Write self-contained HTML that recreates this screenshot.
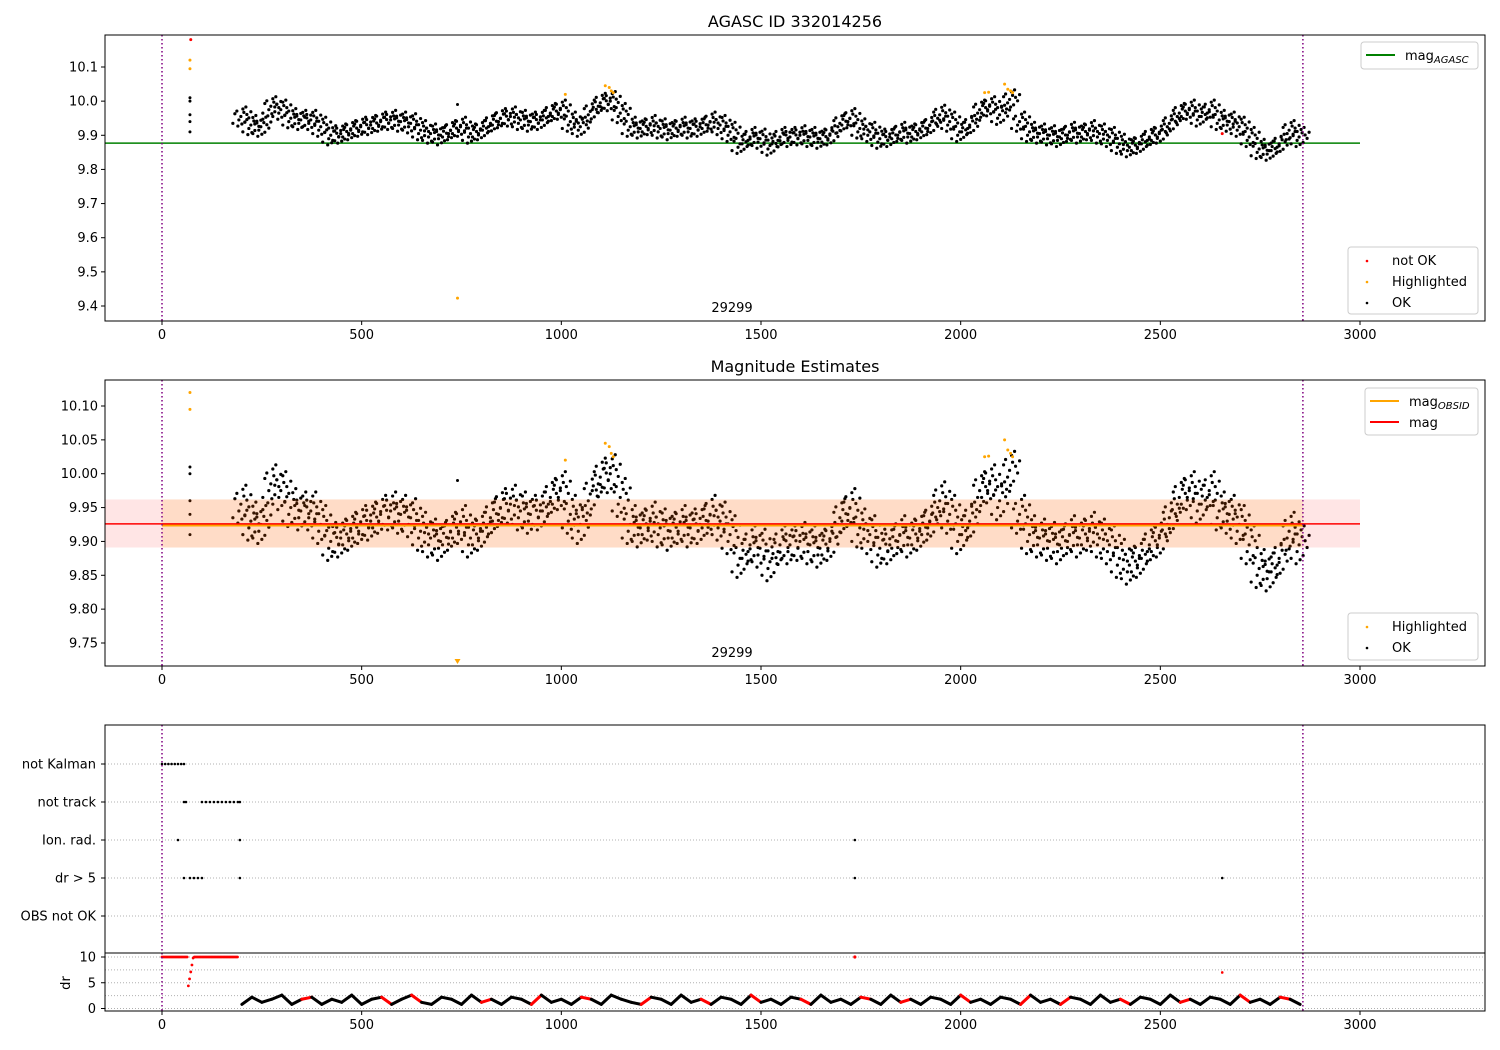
<!DOCTYPE html>
<html><head><meta charset="utf-8"><style>
html,body{margin:0;padding:0;background:#fff;}
svg{display:block;font-family:"DejaVu Sans","Liberation Sans",sans-serif;}
</style></head><body>
<svg id="fig" width="1500" height="1050" viewBox="0 0 1500 1050" xmlns="http://www.w3.org/2000/svg"></svg>
<script>
// ---- data ----
const t0 = 200, tStep = 25;
const magMean = [9.955,9.93,9.925,9.985,9.975,9.95,9.945,9.945,9.925,9.90,9.905,9.915,9.925,9.93,9.94,9.945,9.94,9.935,9.915,9.905,9.90,9.915,9.925,9.905,9.915,9.935,9.95,9.955,9.945,9.94,9.945,9.965,9.975,9.94,9.925,9.97,9.995,10.0,9.965,9.925,9.92,9.93,9.92,9.915,9.925,9.92,9.925,9.94,9.93,9.91,9.875,9.895,9.89,9.87,9.895,9.895,9.90,9.895,9.89,9.90,9.935,9.95,9.92,9.91,9.89,9.895,9.91,9.905,9.915,9.93,9.96,9.94,9.91,9.93,9.975,9.985,9.96,10.005,9.94,9.91,9.905,9.90,9.895,9.91,9.905,9.915,9.905,9.895,9.875,9.865,9.875,9.895,9.905,9.935,9.965,9.975,9.955,9.975,9.945,9.94,9.925,9.895,9.86,9.855,9.875,9.915,9.895];
const times = [];
for (let i = 0; i < magMean.length; i++) times.push(t0 + i * tStep);
const drVals = [0.8,2.2,1.2,1.8,2.6,0.8,1.8,2.2,0.8,1.8,1.2,2.6,0.8,1.8,2.2,0.8,1.8,2.6,1.2,0.8,2.2,1.8,0.8,2.6,1.2,1.8,0.8,2.2,1.8,0.8,2.6,1.2,1.8,0.8,2.2,1.8,0.8,2.6,1.8,1.2,0.8,2.2,1.8,0.8,2.6,1.2,1.8,0.8,2.2,1.8,0.8,2.6,1.2,1.8,0.8,2.2,1.8,0.8,2.6,1.2,1.8,0.8,2.2,1.8,0.8,2.6,1.2,1.8,0.8,2.2,1.8,0.8,2.6,1.2,1.8,0.8,2.2,1.8,0.8,2.6,1.2,1.8,0.8,2.2,1.8,0.8,2.6,1.2,1.8,0.8,2.2,1.8,0.8,2.6,1.2,1.8,0.8,2.2,1.8,0.8,2.6,1.2,1.8,0.8,2.2,1.8,0.8];
const drRed = [6,14,17,24,29,34,40,46,51,56,62,66,72,78,82,88,94,100,104];
const hiT = [70,70,1010,1110,1120,1125,1130,2060,2070,2110,2118,2125,2130];
const hiM = [10.12,10.095,10.02,10.045,10.04,10.03,10.025,10.025,10.026,10.05,10.035,10.03,10.025];
const earlyT = [70,70,70,70,70,740];
const earlyM = [10.01,10.0,9.96,9.94,9.91,9.99];
const catLabels = ["not Kalman","not track","Ion. rad.","dr > 5","OBS not OK"];
const flagCat = [0,0,0,0,0,0,0,0,1,1,1,1,1,1,1,1,1,1,1,1,1,2,2,2,3,3,3,3,3,3,3,3];
const flagT =   [0,8,16,24,32,40,48,55,55,60,100,110,120,130,140,150,160,170,180,190,195,40,195,1735,55,70,80,90,100,195,1735,2655];
const xTicks = [0,500,1000,1500,2000,2500,3000];
const y1Ticks = [9.4,9.5,9.6,9.7,9.8,9.9,10.0,10.1];
const y2Ticks = [9.75,9.80,9.85,9.90,9.95,10.00,10.05,10.10];
const drTicks = [0,5,10];

// ---- helpers ----
const svg = document.getElementById('fig');
const NS = 'http://www.w3.org/2000/svg';
function mk(tag, attrs, parent) {
  const e = document.createElementNS(NS, tag);
  for (const k in attrs) e.setAttribute(k, attrs[k]);
  (parent || svg).appendChild(e);
  return e;
}
const X = t => 162 + t * (1198 / 3000);
const Y1 = m => 67 + (10.1 - m) * (239 / 0.7);
const Y2 = m => 406 + (10.10 - m) * (237 / 0.35);
const YC = i => 764 + i * 38;
const YD = d => 1008.5 - d * 5.15;

function axesBox(name, y0, y1) {
  const r = mk('rect', {x:105, y:y0, width:1380, height:y1 - y0, fill:'none', stroke:'#000', 'stroke-width':1});
  
  
}
function xAxis(name, yb) {
  const g = mk('g', {});
  
  
  xTicks.forEach(v => {
    mk('line', {x1:X(v), x2:X(v), y1:yb, y2:yb + 4, stroke:'#000'}, g);
    const tx = mk('text', {x:X(v), y:yb + 18, 'font-size':13, 'text-anchor':'middle'}, g);
    tx.textContent = v;
  });
}
function yAxis(name, ticks, f, fmt) {
  const g = mk('g', {});
  
  
  ticks.forEach(v => {
    mk('line', {x1:101, x2:105, y1:f(v), y2:f(v), stroke:'#000'}, g);
    const tx = mk('text', {x:98, y:f(v) + 4.5, 'font-size':13, 'text-anchor':'end'}, g);
    tx.textContent = fmt(v);
  });
}
function dot(g, x, y, c, r) { mk('circle', {cx:x, cy:y, r:r || 1.5, fill:c}, g); }
const offs = [[-4.5,-0.02],[-3.5,0.008],[-2.5,0.016],[-1.5,-0.01],[-0.5,0.0],[0.5,0.022],[1.5,-0.016],[2.5,0.006],[3.5,-0.004],[4.5,0.014],[-2,-0.028],[2,0.028],[0,-0.022],[1,0.012]];
function cloud(name, f, k) {
  const g = mk('g', {});
  
  
  times.forEach((t, i) => {
    offs.forEach(o => dot(g, X(t) + o[0] * 2, f(magMean[i] + o[1] * k), '#000', 1.6));
  });
  return g;
}
function vlines(y0, y1) {
  [0, 2857].forEach(t => mk('line', {x1:X(t), x2:X(t), y1:y0, y2:y1, stroke:'#800080', 'stroke-width':1.5, 'stroke-dasharray':'1.5,2.5'}));
}
function title(txt, y, name) {
  const t = mk('text', {x:795, y:y, 'font-size':16, 'text-anchor':'middle'});
  t.textContent = txt;
  
  
}

// ---- panel 1 ----
title('AGASC ID 332014256', 27, 'top-title');
mk('line', {x1:105, x2:1360, y1:Y1(9.877), y2:Y1(9.877), stroke:'#008000', 'stroke-width':1.5});
cloud('ok-points-top', Y1, 1);
(function(){
  const g = mk('g', {});
  
  
  earlyT.forEach((t,i) => dot(g, X(t), Y1(earlyM[i]), '#000'));
  hiT.forEach((t,i) => dot(g, X(t), Y1(hiM[i]), 'orange'));
  dot(g, X(740), Y1(9.423), 'orange');
  dot(g, X(72), Y1(10.18), 'red');
  dot(g, X(2655), Y1(9.905), 'red');
})();
vlines(35, 321);
axesBox('top-axes', 35, 321);
xAxis('top-x-axis', 321);
yAxis('top-y-axis', y1Ticks, Y1, v => v.toFixed(1));
(function(){ const t = mk('text', {x:732, y:312, 'font-size':13, 'text-anchor':'middle'}); t.textContent = '29299';   })();

// ---- panel 2 ----
title('Magnitude Estimates', 372, 'middle-title');
cloud('ok-points-mid', Y2, 1);
(function(){
  const g = mk('g', {});
  
  
  earlyT.forEach((t,i) => dot(g, X(t), Y2(earlyM[i]), '#000'));
  hiT.forEach((t,i) => dot(g, X(t), Y2(hiM[i]), 'orange'));
  mk('path', {d:`M${X(740)-3},${Y2(9.722)-3} L${X(740)+3},${Y2(9.722)-3} L${X(740)},${Y2(9.722)+2} Z`, fill:'orange'}, g);
})();
(function(){
  const g = mk('g', {});
  
  
  mk('rect', {x:105, y:Y2(9.962), width:1255, height:Y2(9.891)-Y2(9.962), fill:'rgba(255,0,0,0.1)'}, g);
  mk('rect', {x:X(0), y:Y2(9.962), width:X(2857)-X(0), height:Y2(9.891)-Y2(9.962), fill:'rgba(255,165,0,0.13)'}, g);
  mk('line', {x1:X(0), x2:X(2857), y1:Y2(9.925)+1, y2:Y2(9.925)+1, stroke:'orange', 'stroke-width':2}, g);
  mk('line', {x1:105, x2:1360, y1:Y2(9.926), y2:Y2(9.926), stroke:'red', 'stroke-width':1.5}, g);
})();
vlines(380, 666);
axesBox('middle-axes', 380, 666);
xAxis('middle-x-axis', 666);
yAxis('middle-y-axis', y2Ticks, Y2, v => v.toFixed(2));
(function(){ const t = mk('text', {x:732, y:657, 'font-size':13, 'text-anchor':'middle'}); t.textContent = '29299';   })();

// ---- panel 3 flags ----
(function(){
  const g = mk('g', {});
  
  
  catLabels.forEach((c,i) => {
    mk('line', {x1:105, x2:1485, y1:YC(i), y2:YC(i), stroke:'#b0b0b0', 'stroke-dasharray':'1,2'}, g);
    mk('line', {x1:101, x2:105, y1:YC(i), y2:YC(i), stroke:'#000'}, g);
    const tx = mk('text', {x:96, y:YC(i) + 4.5, 'font-size':13, 'text-anchor':'end'}, g);
    tx.textContent = c;
  });
  flagT.forEach((t,i) => dot(g, X(t), YC(flagCat[i]), '#000', 1.3));
})();
// dr
(function(){
  const g = mk('g', {});
  
  
  [0,2.5,5,7.5,10].forEach(v => mk('line', {x1:105, x2:1485, y1:YD(v), y2:YD(v), stroke:'#b0b0b0', 'stroke-dasharray':'1,2'}, g));
  for (let t = 0; t <= 190; t += 3) {
    let d = 10;
    if (t >= 64 && t <= 78) d = 3.5 + (t - 64) * 0.45;
    dot(g, X(t), YD(d), 'red', 1.4);
  }
  for (let i = 0; i < times.length - 1; i++) {
    const t = times[i];
    const a = drVals[i], b = drVals[i + 1];
    const col = drRed.indexOf(i) >= 0 ? 'red' : '#000';
    mk('line', {x1:X(t), y1:YD(a), x2:X(t + tStep), y2:YD(b), stroke:col, 'stroke-width':3, 'stroke-linecap':'round'}, g);
  }
  dot(g, X(1735), YD(10), 'red', 1.6);
  dot(g, X(2655), YD(7), 'red', 1.3);
  drTicks.forEach(v => {
    mk('line', {x1:101, x2:105, y1:YD(v), y2:YD(v), stroke:'#000'}, g);
    const tx = mk('text', {x:96, y:YD(v) + 4.5, 'font-size':13, 'text-anchor':'end'}, g);
    tx.textContent = v;
  });
  const yl = mk('text', {x:70, y:983, 'font-size':13, 'text-anchor':'middle', transform:'rotate(-90 70 983)'}, g);
  yl.textContent = 'dr';
})();
vlines(725, 1011);
axesBox('flags-axes', 725, 953);
axesBox('dr-axes', 953, 1011);
xAxis('bottom-x-axis', 1011);

// ---- legends ----
function legend(name, x, y, w, h, items) {
  const g = mk('g', {});
  
  
  mk('rect', {x:x, y:y, width:w, height:h, rx:3, fill:'rgba(255,255,255,0.8)', stroke:'#ccc'}, g);
  items.forEach((it, i) => {
    const cy = y + 13 + i * 21;
    if (it.line) mk('line', {x1:x + 5, x2:x + 34, y1:cy, y2:cy, stroke:it.c, 'stroke-width':2}, g);
    else dot(g, x + 19, cy + 1, it.c, 1.3);
    const tx = mk('text', {x:x + 44, y:cy + 5, 'font-size':13}, g);
    tx.textContent = it.t;
    if (it.sub) { const s = mk('tspan', {'font-size':10, 'font-style':'italic', dy:3}, tx); s.textContent = it.sub; }
  });
}
legend('legend-agasc', 1361, 42, 117, 27, [{line:1, c:'#008000', t:'mag', sub:'AGASC'}]);
legend('legend-status-top', 1348, 247, 130, 67, [{c:'red', t:'not OK'}, {c:'orange', t:'Highlighted'}, {c:'#000', t:'OK'}]);
legend('legend-mag', 1365, 388, 113, 47, [{line:1, c:'orange', t:'mag', sub:'OBSID'}, {line:1, c:'red', t:'mag'}]);
legend('legend-status-mid', 1348, 613, 130, 47, [{c:'orange', t:'Highlighted'}, {c:'#000', t:'OK'}]);
</script>
</body></html>
